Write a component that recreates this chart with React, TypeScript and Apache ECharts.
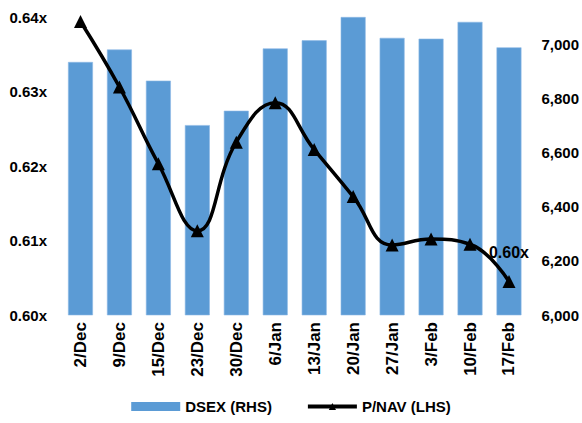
import React, { useEffect, useRef } from "react";
import * as echarts from "echarts";

const categories = ["2/Dec", "9/Dec", "15/Dec", "23/Dec", "30/Dec", "6/Jan", "13/Jan", "20/Jan", "27/Jan", "3/Feb", "10/Feb", "17/Feb"];
const dsex = [6934, 6980, 6865, 6701, 6754, 6984, 7014, 7100, 7023, 7020, 7082, 6988];
const pnav = [0.6394, 0.6306, 0.6203, 0.6113, 0.6232, 0.6285, 0.6222, 0.6159, 0.6094, 0.6102, 0.6095, 0.6045];

export default function App() {
  const ref = useRef<HTMLDivElement>(null);
  useEffect(() => {
    if (!ref.current) return;
    const chart = echarts.init(ref.current, null, { renderer: "svg" });
    const font = "Arial, 'Liberation Sans', sans-serif";
    chart.setOption({
      animation: false,
      textStyle: { fontFamily: font },
      grid: { left: 61, right: 52, top: 17, bottom: 108, containLabel: false },
      legend: {
        bottom: 4,
        left: "center",
        itemGap: 34,
        textStyle: { fontFamily: font, fontWeight: "bold", fontSize: 15, color: "#000" },
        data: [
          { name: "DSEX (RHS)", icon: "rect", itemStyle: { color: "#5B9BD5", borderWidth: 0 } },
          { name: "P/NAV (LHS)", lineStyle: { width: 4, color: "#000" }, itemStyle: { color: "#000" } },
        ],
        itemWidth: 49,
        itemHeight: 9,
      },
      xAxis: {
        type: "category",
        data: categories,
        axisLine: { show: false },
        axisTick: { show: false },
        axisLabel: { rotate: 90, fontWeight: "bold", fontSize: 17, color: "#000", margin: 7, fontFamily: font, interval: 0 },
      },
      yAxis: [
        {
          type: "value",
          min: 0.6,
          max: 0.64,
          interval: 0.01,
          position: "left",
          splitLine: { show: false },
          axisLine: { show: false },
          axisTick: { show: false },
          axisLabel: {
            fontWeight: "bold",
            fontSize: 15,
            color: "#000",
            margin: 14,
            fontFamily: font,
            formatter: (v: number) => v.toFixed(2) + "x",
          },
        },
        {
          type: "value",
          min: 6000,
          max: 7100,
          interval: 200,
          position: "right",
          splitLine: { show: false },
          axisLine: { show: false },
          axisTick: { show: false },
          axisLabel: {
            fontWeight: "bold",
            fontSize: 15,
            color: "#000",
            margin: 13,
            fontFamily: font,
            formatter: (v: number) => (v > 7000 ? "" : v.toLocaleString("en-US")),
          },
        },
      ],
      series: [
        {
          name: "DSEX (RHS)",
          type: "bar",
          yAxisIndex: 1,
          data: dsex,
          barWidth: "64%",
          itemStyle: { color: "#5B9BD5", borderColor: "#8DB8E6", borderWidth: 0.6 },
        },
        {
          name: "P/NAV (LHS)",
          type: "line",
          yAxisIndex: 0,
          data: pnav.map((v, i) =>
            i === pnav.length - 1
              ? {
                  value: v,
                  label: {
                    show: true,
                    position: "top",
                    distance: 14,
                    formatter: (p: any) => p.value.toFixed(2) + "x",
                    fontWeight: "bold",
                    fontSize: 16,
                    color: "#000",
                    fontFamily: font,
                  },
                }
              : v
          ),
          smooth: 0.45,
          symbol: "triangle",
          symbolSize: 13,
          lineStyle: { color: "#000", width: 3.5 },
          itemStyle: { color: "#000" },
        },
      ],
    });
    return () => chart.dispose();
  }, []);
  return <div ref={ref} style={{ width: 582, height: 423, position: "absolute", left: 0, top: 0 }} />;
}
